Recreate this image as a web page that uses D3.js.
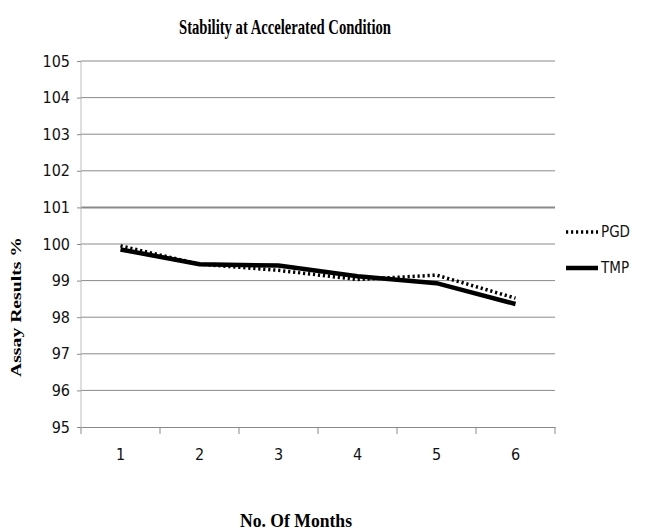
<!DOCTYPE html>
<html>
<head>
<meta charset="utf-8">
<script src="https://cdn.jsdelivr.net/npm/d3@7"></script>
<style>
  body { margin: 0; background: #fff; }
  svg { display: block; }
</style>
</head>
<body>
<div id="chart"></div>
<script>
// chart data
var months = [1, 2, 3, 4, 5, 6];
var pgdValues = [99.95, 99.45, 99.28, 99.03, 99.15, 98.52];
var tmpValues = [99.85, 99.45, 99.41, 99.12, 98.93, 98.36];
var yTicks = [95, 96, 97, 98, 99, 100, 101, 102, 103, 104, 105];
var seriesNames = ['PGD', 'TMP'];

var W = 645, H = 531;
var plotLeft = 81, plotRight = 555, plotTop = 61, plotBottom = 427;

var svg = d3.select('#chart').append('svg').attr('width', W).attr('height', H);

var x = d3.scaleBand().domain(months).range([plotLeft, plotRight]);
var y = d3.scaleLinear().domain([95, 105]).range([plotBottom, plotTop]);

var tickFont = '"Liberation Sans Narrow", "DejaVu Sans Condensed", sans-serif';
var serif = '"Liberation Serif", "DejaVu Serif", serif';

// gridlines
svg.append('g').selectAll('line').data(yTicks.filter(function(d) { return d > 95; }))
  .enter().append('line')
    .attr('x1', plotLeft).attr('x2', plotRight)
    .attr('y1', function(d) { return y(d); }).attr('y2', function(d) { return y(d); })
    .attr('stroke', '#8a8a8a')
    .attr('stroke-width', function(d) { return d === 101 ? 2 : 1; });

// y axis
var yAxis = svg.append('g').attr('transform', 'translate(' + plotLeft + ',0)')
  .call(d3.axisLeft(y).tickValues(yTicks).tickSize(4).tickPadding(7).tickFormat(d3.format('d')));
yAxis.select('.domain').attr('stroke', '#bdbdbd').attr('d', 'M0,' + plotTop + 'V' + plotBottom);
yAxis.selectAll('.tick line').attr('stroke', '#8a8a8a');
yAxis.selectAll('.tick text').attr('font-family', tickFont).attr('font-size', 16).attr('fill', '#111');

// x axis
var xAxis = svg.append('g').attr('transform', 'translate(0,' + plotBottom + ')')
  .call(d3.axisBottom(x).tickSize(0).tickPadding(22));
xAxis.select('.domain').attr('stroke', '#8a8a8a');
xAxis.selectAll('.tick text').attr('font-family', tickFont).attr('font-size', 16).attr('fill', '#111');
// category boundary ticks
svg.append('g').selectAll('line').data(months.concat([7]))
  .enter().append('line')
    .attr('x1', function(d, i) { return plotLeft + i * x.step(); })
    .attr('x2', function(d, i) { return plotLeft + i * x.step(); })
    .attr('y1', plotBottom).attr('y2', plotBottom + 7)
    .attr('stroke', '#8a8a8a');

// lines
var line = d3.line()
  .x(function(d, i) { return x(months[i]) + x.bandwidth() / 2; })
  .y(function(d) { return y(d); });

svg.append('path').datum(pgdValues)
  .attr('d', line).attr('fill', 'none')
  .attr('stroke', '#000').attr('stroke-width', 3.5)
  .attr('stroke-dasharray', '2.2,2.8');

svg.append('path').datum(tmpValues)
  .attr('d', line).attr('fill', 'none')
  .attr('stroke', '#000').attr('stroke-width', 4.5);

// legend
var legend = svg.append('g');
seriesNames.forEach(function(name, i) {
  var ly = 232 + i * 36;
  legend.append('line')
    .attr('x1', 566).attr('x2', 598).attr('y1', ly).attr('y2', ly)
    .attr('stroke', '#000')
    .attr('stroke-width', i === 0 ? 3.5 : 4.5)
    .attr('stroke-dasharray', i === 0 ? '2.2,2.8' : null);
  legend.append('text')
    .attr('x', 601).attr('y', ly + 5)
    .attr('font-family', tickFont).attr('font-size', 15).attr('fill', '#111')
    .text(name);
});

// title
svg.append('text')
  .attr('x', 285).attr('y', 34)
  .attr('text-anchor', 'middle')
  .attr('font-family', serif).attr('font-weight', 'bold').attr('font-size', 20)
  .attr('textLength', 212).attr('lengthAdjust', 'spacingAndGlyphs')
  .text('Stability at Accelerated Condition');

// axis titles
svg.append('text')
  .attr('transform', 'translate(21,307) rotate(-90)')
  .attr('text-anchor', 'middle')
  .attr('font-family', serif).attr('font-weight', 'bold').attr('font-size', 15)
  .attr('textLength', 140).attr('lengthAdjust', 'spacingAndGlyphs')
  .text('Assay Results %');

svg.append('text')
  .attr('x', 296).attr('y', 527)
  .attr('text-anchor', 'middle')
  .attr('font-family', serif).attr('font-weight', 'bold').attr('font-size', 19)
  .attr('textLength', 112).attr('lengthAdjust', 'spacingAndGlyphs')
  .text('No. Of Months');
</script>
</body>
</html>
